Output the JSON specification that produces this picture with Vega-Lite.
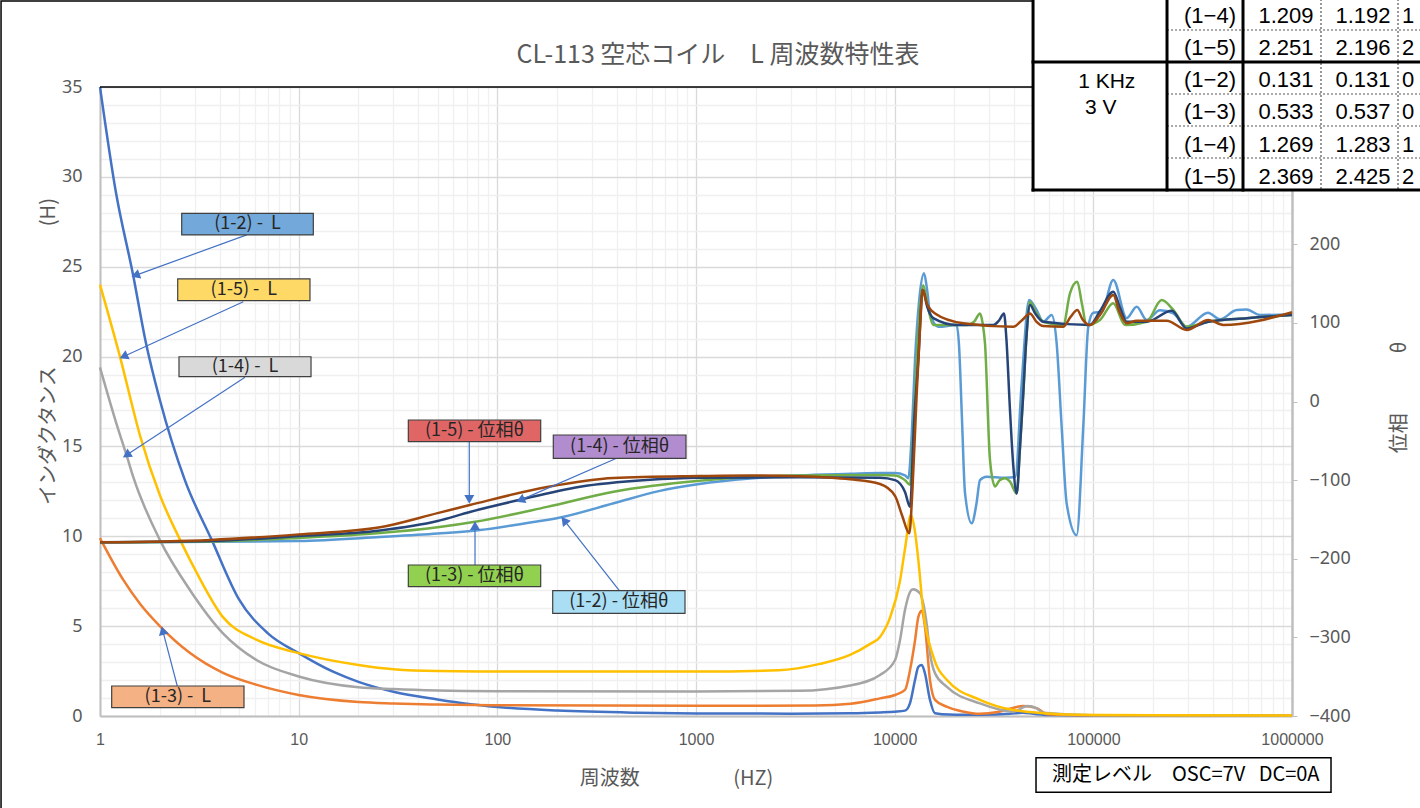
{
  "$schema": "https://vega.github.io/schema/vega-lite/v6.json",
  "width": 1192,
  "height": 629,
  "autosize": {"type": "none"},
  "padding": {"left": 100, "top": 87, "right": 128, "bottom": 92},
  "background": "white",
  "config": {
    "view": {"stroke": null},
    "axis": {"labelFont": "Noto Sans", "titleFont": "Noto Sans CJK JP", "titleFontWeight": "normal", "labelColor": "#595959", "titleColor": "#595959"}
  },
  "datasets": {
    "L": [
      {"s":"(1-2) L","f":1,"v":35},{"s":"(1-2) L","f":1.2,"v":29.2},{"s":"(1-2) L","f":1.47,"v":24.5},{"s":"(1-2) L","f":1.7,"v":20.8},{"s":"(1-2) L","f":2,"v":17.6},{"s":"(1-2) L","f":2.68,"v":13.1},{"s":"(1-2) L","f":3.65,"v":9.8},{"s":"(1-2) L","f":5,"v":6.5},{"s":"(1-2) L","f":7,"v":4.6},{"s":"(1-2) L","f":10,"v":3.5},{"s":"(1-2) L","f":15,"v":2.45},{"s":"(1-2) L","f":20,"v":1.9},{"s":"(1-2) L","f":30,"v":1.35},{"s":"(1-2) L","f":50,"v":0.92},{"s":"(1-2) L","f":70,"v":0.68},{"s":"(1-2) L","f":100,"v":0.5},{"s":"(1-2) L","f":200,"v":0.3},{"s":"(1-2) L","f":500,"v":0.18},{"s":"(1-2) L","f":1000,"v":0.14},{"s":"(1-2) L","f":3000,"v":0.13},{"s":"(1-2) L","f":6000,"v":0.15},{"s":"(1-2) L","f":8435,"v":0.2},{"s":"(1-2) L","f":10000,"v":0.24},{"s":"(1-2) L","f":11270,"v":0.3},{"s":"(1-2) L","f":11950,"v":0.72},{"s":"(1-2) L","f":12660,"v":2.0},{"s":"(1-2) L","f":13150,"v":2.74},{"s":"(1-2) L","f":13700,"v":2.84},{"s":"(1-2) L","f":14200,"v":2.38},{"s":"(1-2) L","f":15060,"v":0.89},{"s":"(1-2) L","f":15960,"v":0.15},{"s":"(1-2) L","f":18800,"v":0.08},{"s":"(1-2) L","f":27000,"v":0.07},{"s":"(1-2) L","f":38000,"v":0.12},{"s":"(1-2) L","f":44000,"v":0.18},{"s":"(1-2) L","f":50000,"v":0.12},{"s":"(1-2) L","f":60500,"v":0.05},{"s":"(1-2) L","f":100000,"v":0.03},{"s":"(1-2) L","f":1000000,"v":0.02},
      {"s":"(1-3) L","f":1,"v":9.9},{"s":"(1-3) L","f":1.31,"v":7.57},{"s":"(1-3) L","f":1.6,"v":6.2},{"s":"(1-3) L","f":2,"v":5.0},{"s":"(1-3) L","f":2.84,"v":3.5},{"s":"(1-3) L","f":4.16,"v":2.4},{"s":"(1-3) L","f":6.16,"v":1.73},{"s":"(1-3) L","f":10,"v":1.17},{"s":"(1-3) L","f":20,"v":0.78},{"s":"(1-3) L","f":30,"v":0.7},{"s":"(1-3) L","f":50,"v":0.64},{"s":"(1-3) L","f":100,"v":0.6},{"s":"(1-3) L","f":1000,"v":0.57},{"s":"(1-3) L","f":4000,"v":0.58},{"s":"(1-3) L","f":6000,"v":0.68},{"s":"(1-3) L","f":8435,"v":0.98},{"s":"(1-3) L","f":10040,"v":1.17},{"s":"(1-3) L","f":11270,"v":1.45},{"s":"(1-3) L","f":11950,"v":2.56},{"s":"(1-3) L","f":12660,"v":4.2},{"s":"(1-3) L","f":13150,"v":5.5},{"s":"(1-3) L","f":13680,"v":5.86},{"s":"(1-3) L","f":14200,"v":5.0},{"s":"(1-3) L","f":15060,"v":2.0},{"s":"(1-3) L","f":15960,"v":0.9},{"s":"(1-3) L","f":18270,"v":0.52},{"s":"(1-3) L","f":22000,"v":0.25},{"s":"(1-3) L","f":26880,"v":0.12},{"s":"(1-3) L","f":33000,"v":0.22},{"s":"(1-3) L","f":39300,"v":0.45},{"s":"(1-3) L","f":44390,"v":0.56},{"s":"(1-3) L","f":51860,"v":0.44},{"s":"(1-3) L","f":58440,"v":0.1},{"s":"(1-3) L","f":100000,"v":0.04},{"s":"(1-3) L","f":1000000,"v":0.02},
      {"s":"(1-4) L","f":1,"v":19.4},{"s":"(1-4) L","f":1.2,"v":16.4},{"s":"(1-4) L","f":1.37,"v":14.4},{"s":"(1-4) L","f":1.47,"v":13.3},{"s":"(1-4) L","f":2,"v":9.8},{"s":"(1-4) L","f":2.84,"v":7.0},{"s":"(1-4) L","f":4.16,"v":4.6},{"s":"(1-4) L","f":6.16,"v":3.1},{"s":"(1-4) L","f":10,"v":2.2},{"s":"(1-4) L","f":20,"v":1.6},{"s":"(1-4) L","f":30,"v":1.5},{"s":"(1-4) L","f":50,"v":1.42},{"s":"(1-4) L","f":100,"v":1.38},{"s":"(1-4) L","f":1000,"v":1.36},{"s":"(1-4) L","f":3300,"v":1.4},{"s":"(1-4) L","f":5960,"v":1.7},{"s":"(1-4) L","f":8435,"v":2.28},{"s":"(1-4) L","f":10040,"v":3.1},{"s":"(1-4) L","f":10630,"v":4.2},{"s":"(1-4) L","f":11270,"v":5.9},{"s":"(1-4) L","f":11950,"v":6.9},{"s":"(1-4) L","f":12370,"v":7.05},{"s":"(1-4) L","f":13410,"v":6.83},{"s":"(1-4) L","f":13920,"v":6.27},{"s":"(1-4) L","f":14540,"v":5.0},{"s":"(1-4) L","f":15060,"v":3.5},{"s":"(1-4) L","f":15960,"v":2.38},{"s":"(1-4) L","f":18270,"v":1.63},{"s":"(1-4) L","f":26880,"v":0.7},{"s":"(1-4) L","f":39540,"v":0.24},{"s":"(1-4) L","f":46500,"v":0.56},{"s":"(1-4) L","f":51860,"v":0.43},{"s":"(1-4) L","f":55980,"v":0.18},{"s":"(1-4) L","f":100000,"v":0.04},{"s":"(1-4) L","f":1000000,"v":0.02},
      {"s":"(1-5) L","f":1,"v":24.0},{"s":"(1-5) L","f":1.26,"v":20.0},{"s":"(1-5) L","f":1.6,"v":15.5},{"s":"(1-5) L","f":2,"v":12.3},{"s":"(1-5) L","f":2.53,"v":9.8},{"s":"(1-5) L","f":3.07,"v":7.96},{"s":"(1-5) L","f":4.16,"v":5.5},{"s":"(1-5) L","f":6.16,"v":4.23},{"s":"(1-5) L","f":10,"v":3.5},{"s":"(1-5) L","f":20,"v":2.84},{"s":"(1-5) L","f":30,"v":2.6},{"s":"(1-5) L","f":50,"v":2.5},{"s":"(1-5) L","f":100,"v":2.48},{"s":"(1-5) L","f":1000,"v":2.47},{"s":"(1-5) L","f":2600,"v":2.55},{"s":"(1-5) L","f":4200,"v":2.9},{"s":"(1-5) L","f":5960,"v":3.4},{"s":"(1-5) L","f":7500,"v":4.0},{"s":"(1-5) L","f":8435,"v":4.4},{"s":"(1-5) L","f":9500,"v":5.5},{"s":"(1-5) L","f":10630,"v":7.5},{"s":"(1-5) L","f":11270,"v":9.3},{"s":"(1-5) L","f":12080,"v":11.2},{"s":"(1-5) L","f":12600,"v":10.4},{"s":"(1-5) L","f":13150,"v":8.7},{"s":"(1-5) L","f":13900,"v":5.9},{"s":"(1-5) L","f":15650,"v":3.3},{"s":"(1-5) L","f":18340,"v":2.0},{"s":"(1-5) L","f":26880,"v":0.9},{"s":"(1-5) L","f":39540,"v":0.33},{"s":"(1-5) L","f":47980,"v":0.22},{"s":"(1-5) L","f":67000,"v":0.1},{"s":"(1-5) L","f":108000,"v":0.06},{"s":"(1-5) L","f":1000000,"v":0.03}
    ],
    "P": [
      {"s":"(1-2) 位相θ","f":1,"v":-179},{"s":"(1-2) 位相θ","f":3.6,"v":-178.5},{"s":"(1-2) 位相θ","f":10,"v":-177.5},{"s":"(1-2) 位相θ","f":25.7,"v":-172.4},{"s":"(1-2) 位相θ","f":50,"v":-168},{"s":"(1-2) 位相θ","f":81.8,"v":-163.5},{"s":"(1-2) 位相θ","f":130,"v":-156},{"s":"(1-2) 位相θ","f":210,"v":-147.3},{"s":"(1-2) 位相θ","f":385,"v":-129.5},{"s":"(1-2) 位相θ","f":650,"v":-114},{"s":"(1-2) 位相θ","f":1040,"v":-105},{"s":"(1-2) 位相θ","f":1870,"v":-98},{"s":"(1-2) 位相θ","f":3300,"v":-94},{"s":"(1-2) 位相θ","f":6000,"v":-92},{"s":"(1-2) 位相θ","f":8435,"v":-91},{"s":"(1-2) 位相θ","f":10040,"v":-91},{"s":"(1-2) 位相θ","f":11270,"v":-94},{"s":"(1-2) 位相θ","f":11710,"v":-97.7},{"s":"(1-2) 位相θ","f":12200,"v":-40},{"s":"(1-2) 位相θ","f":12660,"v":52.8},{"s":"(1-2) 位相θ","f":13300,"v":130},{"s":"(1-2) 位相θ","f":14050,"v":163},{"s":"(1-2) 位相θ","f":14600,"v":140},{"s":"(1-2) 位相θ","f":15060,"v":112},{"s":"(1-2) 位相θ","f":16580,"v":95},{"s":"(1-2) 位相θ","f":20510,"v":97.3},{"s":"(1-2) 位相θ","f":21100,"v":70},{"s":"(1-2) 位相θ","f":21800,"v":-20},{"s":"(1-2) 位相θ","f":22590,"v":-116},{"s":"(1-2) 位相θ","f":24420,"v":-155},{"s":"(1-2) 位相θ","f":25800,"v":-130},{"s":"(1-2) 位相θ","f":26880,"v":-100},{"s":"(1-2) 位相θ","f":29050,"v":-95.7},{"s":"(1-2) 位相θ","f":35920,"v":-97},{"s":"(1-2) 位相θ","f":40500,"v":-96},{"s":"(1-2) 位相θ","f":43500,"v":20},{"s":"(1-2) 位相θ","f":47500,"v":129},{"s":"(1-2) 位相θ","f":51860,"v":116},{"s":"(1-2) 位相θ","f":55980,"v":101.5},{"s":"(1-2) 位相θ","f":61710,"v":110},{"s":"(1-2) 位相θ","f":65370,"v":74},{"s":"(1-2) 位相θ","f":69270,"v":-32},{"s":"(1-2) 位相θ","f":73400,"v":-129.5},{"s":"(1-2) 位相θ","f":82410,"v":-170},{"s":"(1-2) 位相θ","f":89000,"v":-32},{"s":"(1-2) 位相θ","f":94300,"v":95},{"s":"(1-2) 位相θ","f":99930,"v":113},{"s":"(1-2) 位相θ","f":110200,"v":114},{"s":"(1-2) 位相θ","f":126000,"v":154.6},{"s":"(1-2) 位相θ","f":147200,"v":106},{"s":"(1-2) 位相θ","f":165300,"v":120.6},{"s":"(1-2) 位相θ","f":185600,"v":103.7},{"s":"(1-2) 位相θ","f":216500,"v":116},{"s":"(1-2) 位相θ","f":252700,"v":112},{"s":"(1-2) 位相θ","f":295100,"v":95},{"s":"(1-2) 位相θ","f":377500,"v":113},{"s":"(1-2) 位相θ","f":434000,"v":104.6},{"s":"(1-2) 位相θ","f":526600,"v":116.4},{"s":"(1-2) 位相θ","f":591500,"v":117},{"s":"(1-2) 位相θ","f":690200,"v":110},{"s":"(1-2) 位相θ","f":1000000,"v":111},
      {"s":"(1-3) 位相θ","f":1,"v":-179},{"s":"(1-3) 位相θ","f":3.6,"v":-178},{"s":"(1-3) 位相θ","f":10,"v":-173.6},{"s":"(1-3) 位相θ","f":25.7,"v":-167.4},{"s":"(1-3) 位相θ","f":50,"v":-160},{"s":"(1-3) 位相θ","f":77.2,"v":-153},{"s":"(1-3) 位相θ","f":178,"v":-134},{"s":"(1-3) 位相θ","f":385,"v":-114.7},{"s":"(1-3) 位相θ","f":1040,"v":-100.8},{"s":"(1-3) 位相θ","f":1870,"v":-96},{"s":"(1-3) 位相θ","f":3300,"v":-94},{"s":"(1-3) 位相θ","f":8435,"v":-93.5},{"s":"(1-3) 位相θ","f":10040,"v":-94},{"s":"(1-3) 位相θ","f":11270,"v":-100},{"s":"(1-3) 位相θ","f":11950,"v":-106},{"s":"(1-3) 位相θ","f":12400,"v":-40},{"s":"(1-3) 位相θ","f":12910,"v":52.8},{"s":"(1-3) 位相θ","f":13920,"v":148},{"s":"(1-3) 位相θ","f":14700,"v":120},{"s":"(1-3) 位相θ","f":15650,"v":97.3},{"s":"(1-3) 位相θ","f":23030,"v":97.3},{"s":"(1-3) 位相θ","f":25200,"v":102},{"s":"(1-3) 位相θ","f":26880,"v":112},{"s":"(1-3) 位相θ","f":27700,"v":100},{"s":"(1-3) 位相θ","f":28490,"v":74},{"s":"(1-3) 位相θ","f":30180,"v":-74},{"s":"(1-3) 位相θ","f":31980,"v":-108},{"s":"(1-3) 位相θ","f":33800,"v":-100},{"s":"(1-3) 位相θ","f":35920,"v":-97.7},{"s":"(1-3) 位相θ","f":38060,"v":-102},{"s":"(1-3) 位相θ","f":41130,"v":-117},{"s":"(1-3) 位相θ","f":42700,"v":-60},{"s":"(1-3) 位相θ","f":44390,"v":10},{"s":"(1-3) 位相θ","f":46000,"v":80},{"s":"(1-3) 位相θ","f":47980,"v":127},{"s":"(1-3) 位相θ","f":51000,"v":115},{"s":"(1-3) 位相θ","f":55980,"v":101.5},{"s":"(1-3) 位相θ","f":70570,"v":97.3},{"s":"(1-3) 位相θ","f":76270,"v":137.6},{"s":"(1-3) 位相θ","f":83020,"v":152.4},{"s":"(1-3) 位相θ","f":87500,"v":125},{"s":"(1-3) 位相θ","f":92570,"v":97.3},{"s":"(1-3) 位相θ","f":108000,"v":103.7},{"s":"(1-3) 位相θ","f":126000,"v":125},{"s":"(1-3) 位相θ","f":144300,"v":97.3},{"s":"(1-3) 位相θ","f":185600,"v":101.5},{"s":"(1-3) 位相θ","f":220900,"v":129},{"s":"(1-3) 位相θ","f":252700,"v":116.4},{"s":"(1-3) 位相θ","f":295100,"v":95},{"s":"(1-3) 位相θ","f":377500,"v":101.5},{"s":"(1-3) 位相θ","f":591500,"v":106},{"s":"(1-3) 位相θ","f":1000000,"v":110},
      {"s":"(1-4) 位相θ","f":1,"v":-179},{"s":"(1-4) 位相θ","f":3.6,"v":-177.5},{"s":"(1-4) 位相θ","f":10,"v":-171},{"s":"(1-4) 位相θ","f":25.7,"v":-164},{"s":"(1-4) 位相θ","f":50,"v":-152},{"s":"(1-4) 位相θ","f":72.7,"v":-140.5},{"s":"(1-4) 位相θ","f":125,"v":-126},{"s":"(1-4) 位相θ","f":261,"v":-108.4},{"s":"(1-4) 位相θ","f":563,"v":-99.9},{"s":"(1-4) 位相θ","f":1040,"v":-97},{"s":"(1-4) 位相θ","f":3300,"v":-96.5},{"s":"(1-4) 位相θ","f":8435,"v":-97},{"s":"(1-4) 位相θ","f":10040,"v":-100},{"s":"(1-4) 位相θ","f":11270,"v":-115},{"s":"(1-4) 位相θ","f":11950,"v":-134},{"s":"(1-4) 位相θ","f":12500,"v":-30},{"s":"(1-4) 位相θ","f":13150,"v":52.8},{"s":"(1-4) 位相θ","f":13840,"v":142},{"s":"(1-4) 位相θ","f":14600,"v":120},{"s":"(1-4) 位相θ","f":15650,"v":106},{"s":"(1-4) 位相θ","f":20510,"v":97.3},{"s":"(1-4) 位相θ","f":31360,"v":97.3},{"s":"(1-4) 位相θ","f":33500,"v":103},{"s":"(1-4) 位相θ","f":35500,"v":112},{"s":"(1-4) 位相θ","f":36500,"v":80},{"s":"(1-4) 位相θ","f":38060,"v":-11},{"s":"(1-4) 位相θ","f":39500,"v":-80},{"s":"(1-4) 位相θ","f":41130,"v":-117},{"s":"(1-4) 位相θ","f":42700,"v":-60},{"s":"(1-4) 位相θ","f":44390,"v":10},{"s":"(1-4) 位相θ","f":46000,"v":80},{"s":"(1-4) 位相θ","f":47980,"v":122.8},{"s":"(1-4) 位相θ","f":51000,"v":112},{"s":"(1-4) 位相θ","f":55980,"v":101.5},{"s":"(1-4) 位相θ","f":96170,"v":97.3},{"s":"(1-4) 位相θ","f":108000,"v":115},{"s":"(1-4) 位相θ","f":126000,"v":139.7},{"s":"(1-4) 位相θ","f":136000,"v":120},{"s":"(1-4) 位相θ","f":147200,"v":101.5},{"s":"(1-4) 位相θ","f":185600,"v":101.5},{"s":"(1-4) 位相θ","f":248000,"v":115.5},{"s":"(1-4) 位相θ","f":295100,"v":93},{"s":"(1-4) 位相θ","f":379000,"v":101.5},{"s":"(1-4) 位相θ","f":591500,"v":106},{"s":"(1-4) 位相θ","f":1000000,"v":110},
      {"s":"(1-5) 位相θ","f":1,"v":-179},{"s":"(1-5) 位相θ","f":3.6,"v":-176},{"s":"(1-5) 位相θ","f":10,"v":-169},{"s":"(1-5) 位相θ","f":25.7,"v":-160},{"s":"(1-5) 位相θ","f":50,"v":-142},{"s":"(1-5) 位相θ","f":72.7,"v":-131.7},{"s":"(1-5) 位相θ","f":178,"v":-108.8},{"s":"(1-5) 位相θ","f":385,"v":-97.3},{"s":"(1-5) 位相θ","f":1040,"v":-94.8},{"s":"(1-5) 位相θ","f":1870,"v":-94},{"s":"(1-5) 位相θ","f":3300,"v":-95},{"s":"(1-5) 位相θ","f":5960,"v":-99},{"s":"(1-5) 位相θ","f":8435,"v":-105},{"s":"(1-5) 位相θ","f":10040,"v":-120},{"s":"(1-5) 位相θ","f":10900,"v":-145},{"s":"(1-5) 位相θ","f":11850,"v":-167.7},{"s":"(1-5) 位相θ","f":12300,"v":-110},{"s":"(1-5) 位相θ","f":12910,"v":10},{"s":"(1-5) 位相θ","f":13400,"v":90},{"s":"(1-5) 位相θ","f":13840,"v":142},{"s":"(1-5) 位相θ","f":14500,"v":125},{"s":"(1-5) 位相θ","f":15960,"v":112},{"s":"(1-5) 位相θ","f":22150,"v":99.5},{"s":"(1-5) 位相θ","f":39540,"v":95},{"s":"(1-5) 位相θ","f":44000,"v":104},{"s":"(1-5) 位相θ","f":47980,"v":112},{"s":"(1-5) 位相θ","f":51500,"v":102},{"s":"(1-5) 位相θ","f":55980,"v":96},{"s":"(1-5) 位相θ","f":70400,"v":95},{"s":"(1-5) 位相θ","f":77000,"v":108},{"s":"(1-5) 位相θ","f":83020,"v":116.4},{"s":"(1-5) 位相θ","f":88000,"v":105},{"s":"(1-5) 位相θ","f":96170,"v":97.3},{"s":"(1-5) 位相θ","f":108000,"v":110},{"s":"(1-5) 位相θ","f":126000,"v":135.5},{"s":"(1-5) 位相θ","f":135000,"v":115},{"s":"(1-5) 位相θ","f":147200,"v":99.5},{"s":"(1-5) 位相θ","f":165300,"v":102.8},{"s":"(1-5) 位相θ","f":234000,"v":102.8},{"s":"(1-5) 位相θ","f":295100,"v":91},{"s":"(1-5) 位相θ","f":379000,"v":103.7},{"s":"(1-5) 位相θ","f":451000,"v":97.3},{"s":"(1-5) 位相θ","f":1000000,"v":113.5}
    ],
    "boxes": [
      {"id":"b1","t":"(1-2) - \u00a0L","f1":2.578,"f2":11.85,"v1":27.97,"v2":26.77,"tf":5.526,"tv":27.37},
      {"id":"b2","t":"(1-5) - \u00a0L","f1":2.461,"f2":11.40,"v1":24.32,"v2":23.11,"tf":5.297,"tv":23.71},
      {"id":"b3","t":"(1-4) - \u00a0L","f1":2.498,"f2":11.54,"v1":19.99,"v2":18.88,"tf":5.369,"tv":19.44},
      {"id":"b4","t":"(1-3) - \u00a0L","f1":1.145,"f2":5.306,"v1":1.669,"v2":0.462,"tf":2.465,"tv":1.066},
      {"id":"b5","t":"(1-5) - 位相θ","f1":35.64,"f2":165.3,"v1":16.471,"v2":15.264,"tf":76.76,"tv":15.867},
      {"id":"b6","t":"(1-4) - 位相θ","f1":191.3,"f2":890.5,"v1":15.636,"v2":14.34,"tf":412.9,"tv":14.988},
      {"id":"b7","t":"(1-3) - 位相θ","f1":35.64,"f2":165.3,"v1":8.402,"v2":7.195,"tf":76.76,"tv":7.799},
      {"id":"b8","t":"(1-2) - 位相θ","f1":190.0,"f2":880.3,"v1":6.972,"v2":5.715,"tf":409.1,"tv":6.344}
    ],
    "arrows": [
      {"f1":5.475,"v1":26.77,"f2":1.509,"v2":24.52,"ang":250},
      {"f1":5.264,"v1":23.05,"f2":1.315,"v2":20.0,"ang":245.4},
      {"f1":5.369,"v1":18.85,"f2":1.361,"v2":14.52,"ang":236.7},
      {"f1":2.449,"v1":1.669,"f2":2.069,"v2":4.752,"ang":345.3},
      {"f1":72.25,"v1":15.264,"f2":72.25,"v2":12.058,"ang":180},
      {"f1":414.5,"v1":14.429,"f2":130.7,"v2":12.014,"ang":246.5},
      {"f1":77.21,"v1":8.402,"f2":77.21,"v2":10.589,"ang":0},
      {"f1":411.2,"v1":6.972,"f2":217.1,"v2":10.884,"ang":321.9}
    ],
    "frames": [
      {"k":"frame","f1":0.3176,"f2":4672000,"v1":39.786,"v2":-5.342},
      {"k":"tbl","f1":49720,"f2":4672000,"v1":40.12,"v2":29.269},
      {"k":"osc","f1":51460,"f2":1571700,"v1":-2.32,"v2":-4.246}
    ],
    "thick": [
      {"f1":49720,"f2":49720,"v1":40.12,"v2":29.269},
      {"f1":234900,"f2":234900,"v1":40.12,"v2":29.269},
      {"f1":566700,"f2":566700,"v1":40.12,"v2":29.269},
      {"f1":49720,"f2":4672000,"v1":36.392,"v2":36.392},
      {"f1":49720,"f2":4672000,"v1":29.269,"v2":29.269}
    ],
    "dotted": [
      {"f1":234900,"f2":4672000,"v1":38.173,"v2":38.173},
      {"f1":234900,"f2":4672000,"v1":34.611,"v2":34.611},
      {"f1":234900,"f2":4672000,"v1":32.831,"v2":32.831},
      {"f1":234900,"f2":4672000,"v1":31.05,"v2":31.05},
      {"f1":1399600,"f2":1399600,"v1":40.12,"v2":29.269},
      {"f1":3417000,"f2":3417000,"v1":40.12,"v2":29.269}
    ],
    "cells": [
      {"t":"(1−4)","f":386600,"v":38.924},{"t":"(1−5)","f":386600,"v":37.171},{"t":"(1−2)","f":386600,"v":35.391},{"t":"(1−3)","f":386600,"v":33.582},{"t":"(1−4)","f":386600,"v":31.773},{"t":"(1−5)","f":386600,"v":30.009},
      {"t":"1.209","f":932900,"v":38.924},{"t":"2.251","f":932900,"v":37.171},{"t":"0.131","f":932900,"v":35.391},{"t":"0.533","f":932900,"v":33.582},{"t":"1.269","f":932900,"v":31.773},{"t":"2.369","f":932900,"v":30.009},
      {"t":"1.192","f":2276700,"v":38.924},{"t":"2.196","f":2276700,"v":37.171},{"t":"0.131","f":2276700,"v":35.391},{"t":"0.537","f":2276700,"v":33.582},{"t":"1.283","f":2276700,"v":31.773},{"t":"2.425","f":2276700,"v":30.009}
    ],
    "cellsLeft": [
      {"t":"1","f":3579300,"v":38.924},{"t":"2","f":3579300,"v":37.171},{"t":"0","f":3579300,"v":35.391},{"t":"0","f":3579300,"v":33.582},{"t":"1","f":3579300,"v":31.773},{"t":"2","f":3579300,"v":30.009}
    ],
    "cond": [
      {"t":"1 KHz","f":116800,"v":35.296},{"t":"3 V","f":108900,"v":33.815}
    ],
    "osc": [
      {"t":"測定レベル　OSC=7V\u00a0\u00a0\u00a0DC=0A","f":61930,"v":-3.283}
    ],
    "heading": [
      {"t":"CL-113 空芯コイル　L 周波数特性表","f":1290.3,"v":36.337}
    ],
    "topline": [
      {"f1":1,"f2":49720,"v":35}
    ]
  },
  "layer": [
    {
      "data": {"name": "L"},
      "mark": {"type": "line", "interpolate": "monotone", "strokeWidth": 2.5},
      "encoding": {
        "x": {"field": "f", "type": "quantitative", "scale": {"type": "log", "domain": [1, 1000000], "nice": false},
          "axis": {
            "orient": "bottom",
            "values": [2,3,4,5,6,7,8,9,20,30,40,50,60,70,80,90,200,300,400,500,600,700,800,900,2000,3000,4000,5000,6000,7000,8000,9000,20000,30000,40000,50000,60000,70000,80000,90000,200000,300000,400000,500000,600000,700000,800000,900000],
            "grid": true, "gridColor": "#F0F0F0", "gridWidth": 1.3,
            "labels": false, "ticks": false, "domain": false, "title": null
          }},
        "y": {"field": "v", "type": "quantitative", "scale": {"domain": [0, 35], "nice": false, "zero": false},
          "axis": {
            "orient": "left",
            "values": [0,1,2,3,4,5,6,7,8,9,10,11,12,13,14,15,16,17,18,19,20,21,22,23,24,25,26,27,28,29,30,31,32,33,34,35],
            "labelExpr": "datum.value % 5 === 0 ? datum.label : ''",
            "grid": true,
            "gridColor": {"condition": {"test": "datum.value % 5 === 0", "value": "#D9D9D9"}, "value": "#F0F0F0"},
            "gridWidth": 1.3,
            "ticks": false,
            "domainColor": "#BFBFBF", "domainWidth": 2,
            "labelFontSize": 18, "labelPadding": 18, "labelOverlap": false,
            "title": "インダクタンス　　　　　　　(H)", "titleFontSize": 20, "titleAngle": 270, "titleX": -52, "titleY": 264, "titleAlign": "center", "titleBaseline": "middle"
          }},
        "color": {"field": "s", "type": "nominal", "scale": {"domain": ["(1-2) L","(1-3) L","(1-4) L","(1-5) L","(1-2) 位相θ","(1-3) 位相θ","(1-4) 位相θ","(1-5) 位相θ"], "range": ["#4472C4","#ED7D31","#A5A5A5","#FFC000","#5B9BD5","#70AD47","#264478","#9E480E"]}, "legend": null}
      }
    },
    {
      "data": {"name": "P"},
      "mark": {"type": "line", "interpolate": "monotone", "strokeWidth": 2.5},
      "encoding": {
        "x": {"field": "f", "type": "quantitative", "scale": {"type": "log", "domain": [1, 1000000], "nice": false},
          "axis": {
            "orient": "bottom",
            "values": [1,10,100,1000,10000,100000,1000000],
            "format": "d",
            "grid": true, "gridColor": "#D9D9D9", "gridWidth": 1.3,
            "ticks": false,
            "domainColor": "#BFBFBF", "domainWidth": 2,
            "labelFont": "Liberation Sans", "labelFontSize": 16, "labelPadding": 15, "labelOverlap": false, "labelFlush": false,
            "title": "周波数　　　　\u00a0\u00a0\u00a0(HZ)", "titleFontSize": 20, "titleX": 576, "titleY": 62, "titleAlign": "center", "titleBaseline": "middle"
          }},
        "y": {"field": "v", "type": "quantitative", "scale": {"domain": [-400, 400], "nice": false, "zero": false},
          "axis": {
            "orient": "right",
            "values": [-400,-300,-200,-100,0,100,200,300,400],
            "grid": false, "ticks": true, "tickSize": 5, "tickColor": "#BFBFBF",
            "domainColor": "#BFBFBF", "domainWidth": 2.5,
            "labelFontSize": 18, "labelPadding": 12, "labelOverlap": false,
            "title": "位相　　　θ", "titleFontSize": 20, "titleAngle": 270, "titleX": 107, "titleY": 310, "titleAlign": "center", "titleBaseline": "middle"
          }},
        "color": {"field": "s", "type": "nominal", "scale": {"domain": ["(1-2) L","(1-3) L","(1-4) L","(1-5) L","(1-2) 位相θ","(1-3) 位相θ","(1-4) 位相θ","(1-5) 位相θ"], "range": ["#4472C4","#ED7D31","#A5A5A5","#FFC000","#5B9BD5","#70AD47","#264478","#9E480E"]}, "legend": null}
      }
    },
    {
      "layer": [
        {
          "data": {"name": "frames"},
          "transform": [{"filter": "datum.k === 'frame'"}],
          "mark": {"type": "rect", "fill": "transparent", "stroke": "#000000", "strokeWidth": 1.5},
          "encoding": {
            "x": {"field": "f1", "type": "quantitative", "scale": {"type": "log", "domain": [1, 1000000], "nice": false}, "axis": null},
            "x2": {"field": "f2"},
            "y": {"field": "v1", "type": "quantitative", "scale": {"domain": [0, 35], "nice": false, "zero": false}, "axis": null},
            "y2": {"field": "v2"}
          }
        },
        {
          "data": {"name": "heading"},
          "mark": {"type": "text", "align": "center", "baseline": "alphabetic", "font": "Noto Sans CJK JP", "fontSize": 25, "color": "#595959"},
          "encoding": {
            "x": {"field": "f", "type": "quantitative", "scale": {"type": "log", "domain": [1, 1000000], "nice": false}, "axis": null},
            "y": {"field": "v", "type": "quantitative", "scale": {"domain": [0, 35], "nice": false, "zero": false}, "axis": null},
            "text": {"field": "t"}
          }
        },
        {
          "data": {"name": "topline"},
          "mark": {"type": "rule", "color": "#000000", "strokeWidth": 1.5},
          "encoding": {
            "x": {"field": "f1", "type": "quantitative", "scale": {"type": "log", "domain": [1, 1000000], "nice": false}, "axis": null},
            "x2": {"field": "f2"},
            "y": {"field": "v", "type": "quantitative", "scale": {"domain": [0, 35], "nice": false, "zero": false}, "axis": null}
          }
        },
        {
          "data": {"name": "frames"},
          "transform": [{"filter": "datum.k === 'osc'"}],
          "mark": {"type": "rect", "fill": "#FFFFFF", "stroke": "#000000", "strokeWidth": 1.5},
          "encoding": {
            "x": {"field": "f1", "type": "quantitative", "scale": {"type": "log", "domain": [1, 1000000], "nice": false}, "axis": null},
            "x2": {"field": "f2"},
            "y": {"field": "v1", "type": "quantitative", "scale": {"domain": [0, 35], "nice": false, "zero": false}, "axis": null},
            "y2": {"field": "v2"}
          }
        },
        {
          "data": {"name": "osc"},
          "mark": {"type": "text", "align": "left", "baseline": "middle", "font": "Noto Sans CJK JP", "fontSize": 20, "color": "#000000"},
          "encoding": {
            "x": {"field": "f", "type": "quantitative", "scale": {"type": "log", "domain": [1, 1000000], "nice": false}, "axis": null},
            "y": {"field": "v", "type": "quantitative", "scale": {"domain": [0, 35], "nice": false, "zero": false}, "axis": null},
            "text": {"field": "t"}
          }
        },
        {
          "data": {"name": "arrows"},
          "mark": {"type": "rule", "color": "#4472C4", "strokeWidth": 1.2},
          "encoding": {
            "x": {"field": "f1", "type": "quantitative", "scale": {"type": "log", "domain": [1, 1000000], "nice": false}, "axis": null},
            "x2": {"field": "f2"},
            "y": {"field": "v1", "type": "quantitative", "scale": {"domain": [0, 35], "nice": false, "zero": false}, "axis": null},
            "y2": {"field": "v2"}
          }
        },
        {
          "data": {"name": "arrows"},
          "mark": {"type": "point", "shape": "triangle-up", "filled": true, "color": "#4472C4", "size": 100, "opacity": 1},
          "encoding": {
            "x": {"field": "f2", "type": "quantitative", "scale": {"type": "log", "domain": [1, 1000000], "nice": false}, "axis": null},
            "y": {"field": "v2", "type": "quantitative", "scale": {"domain": [0, 35], "nice": false, "zero": false}, "axis": null},
            "angle": {"field": "ang", "type": "quantitative", "scale": null}
          }
        },
        {
          "data": {"name": "boxes"},
          "mark": {"type": "rect", "stroke": "#404040", "strokeWidth": 1.2},
          "encoding": {
            "x": {"field": "f1", "type": "quantitative", "scale": {"type": "log", "domain": [1, 1000000], "nice": false}, "axis": null},
            "x2": {"field": "f2"},
            "y": {"field": "v1", "type": "quantitative", "scale": {"domain": [0, 35], "nice": false, "zero": false}, "axis": null},
            "y2": {"field": "v2"},
            "fill": {"field": "id", "type": "nominal", "scale": {"domain": ["b1","b2","b3","b4","b5","b6","b7","b8"], "range": ["#72A9DA","#FFD966","#D9D9D9","#F4B183","#E06666","#B18CCF","#92D050","#A9DEF5"]}, "legend": null}
          }
        },
        {
          "data": {"name": "boxes"},
          "mark": {"type": "text", "align": "center", "baseline": "middle", "font": "Noto Sans CJK JP", "fontSize": 18, "color": "#262626"},
          "encoding": {
            "x": {"field": "tf", "type": "quantitative", "scale": {"type": "log", "domain": [1, 1000000], "nice": false}, "axis": null},
            "y": {"field": "tv", "type": "quantitative", "scale": {"domain": [0, 35], "nice": false, "zero": false}, "axis": null},
            "text": {"field": "t"}
          }
        },
        {
          "data": {"name": "frames"},
          "transform": [{"filter": "datum.k === 'tbl'"}],
          "mark": {"type": "rect", "fill": "#FFFFFF", "strokeWidth": 0},
          "encoding": {
            "x": {"field": "f1", "type": "quantitative", "scale": {"type": "log", "domain": [1, 1000000], "nice": false}, "axis": null},
            "x2": {"field": "f2"},
            "y": {"field": "v1", "type": "quantitative", "scale": {"domain": [0, 35], "nice": false, "zero": false}, "axis": null},
            "y2": {"field": "v2"}
          }
        },
        {
          "data": {"name": "dotted"},
          "mark": {"type": "rule", "color": "#555555", "strokeWidth": 1.2, "strokeDash": [2, 2]},
          "encoding": {
            "x": {"field": "f1", "type": "quantitative", "scale": {"type": "log", "domain": [1, 1000000], "nice": false}, "axis": null},
            "x2": {"field": "f2"},
            "y": {"field": "v1", "type": "quantitative", "scale": {"domain": [0, 35], "nice": false, "zero": false}, "axis": null},
            "y2": {"field": "v2"}
          }
        },
        {
          "data": {"name": "thick"},
          "mark": {"type": "rule", "color": "#000000", "strokeWidth": 3, "strokeCap": "square"},
          "encoding": {
            "x": {"field": "f1", "type": "quantitative", "scale": {"type": "log", "domain": [1, 1000000], "nice": false}, "axis": null},
            "x2": {"field": "f2"},
            "y": {"field": "v1", "type": "quantitative", "scale": {"domain": [0, 35], "nice": false, "zero": false}, "axis": null},
            "y2": {"field": "v2"}
          }
        },
        {
          "data": {"name": "cells"},
          "mark": {"type": "text", "align": "center", "baseline": "middle", "font": "Liberation Sans", "fontSize": 22, "color": "#000000"},
          "encoding": {
            "x": {"field": "f", "type": "quantitative", "scale": {"type": "log", "domain": [1, 1000000], "nice": false}, "axis": null},
            "y": {"field": "v", "type": "quantitative", "scale": {"domain": [0, 35], "nice": false, "zero": false}, "axis": null},
            "text": {"field": "t"}
          }
        },
        {
          "data": {"name": "cellsLeft"},
          "mark": {"type": "text", "align": "left", "baseline": "middle", "font": "Liberation Sans", "fontSize": 22, "color": "#000000"},
          "encoding": {
            "x": {"field": "f", "type": "quantitative", "scale": {"type": "log", "domain": [1, 1000000], "nice": false}, "axis": null},
            "y": {"field": "v", "type": "quantitative", "scale": {"domain": [0, 35], "nice": false, "zero": false}, "axis": null},
            "text": {"field": "t"}
          }
        },
        {
          "data": {"name": "cond"},
          "mark": {"type": "text", "align": "center", "baseline": "middle", "font": "Liberation Sans", "fontSize": 21, "color": "#000000"},
          "encoding": {
            "x": {"field": "f", "type": "quantitative", "scale": {"type": "log", "domain": [1, 1000000], "nice": false}, "axis": null},
            "y": {"field": "v", "type": "quantitative", "scale": {"domain": [0, 35], "nice": false, "zero": false}, "axis": null},
            "text": {"field": "t"}
          }
        }
      ]
    }
  ],
  "resolve": {"scale": {"y": "independent"}, "axis": {"x": "independent"}}
}
